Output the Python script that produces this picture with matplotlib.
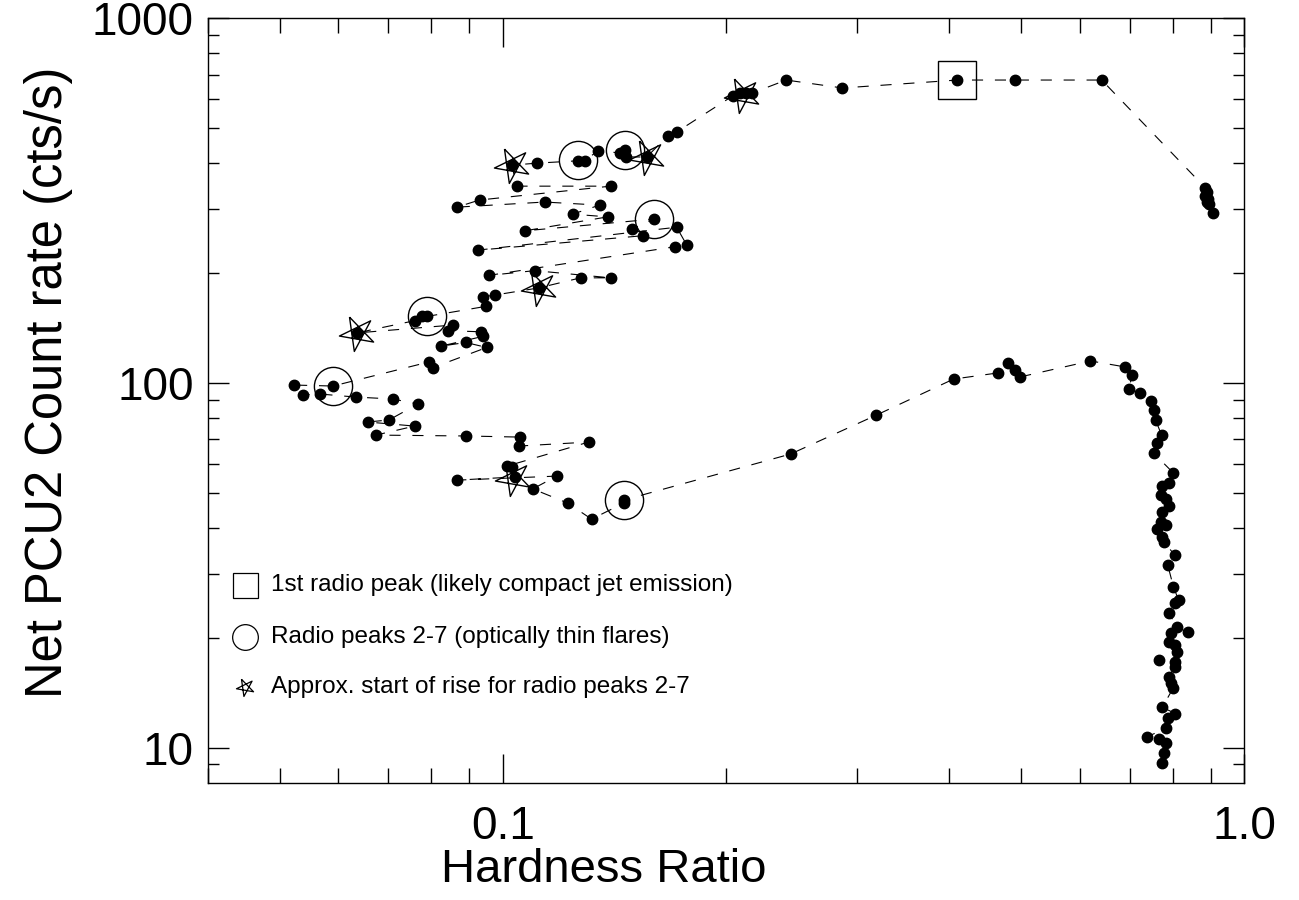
import numpy as np
import matplotlib
matplotlib.use("Agg")
import matplotlib.pyplot as plt
from matplotlib.path import Path
from matplotlib.ticker import FixedLocator, FixedFormatter, NullFormatter

plt.rcParams['font.family'] = ['Liberation Sans', 'DejaVu Sans']
plt.rcParams['lines.scale_dashes'] = False

# hardness ratio / net PCU2 rate, in time order
hardness = [0.906, 0.897, 0.889, 0.894, 0.886, 0.891, 0.886,
            0.642, 0.491, 0.410, 0.287, 0.241,
            0.217, 0.213, 0.2085, 0.204, 0.1715, 0.1668,
            0.1563, 0.1464, 0.146, 0.1437, 0.1342, 0.1289, 0.1261, 0.111, 0.1028,
            0.1044, 0.1397, 0.093, 0.0866, 0.1138, 0.135, 0.1242, 0.1384,
            0.107, 0.1597, 0.1492, 0.1543, 0.0925, 0.1715, 0.1769, 0.1704,
            0.0957, 0.1104, 0.1397, 0.1273, 0.1117, 0.0975, 0.0939, 0.0948,
            0.0789, 0.0777, 0.076, 0.0635, 0.0856, 0.0843, 0.0933, 0.0939,
            0.0824, 0.0891, 0.0951, 0.0804, 0.0794,
            0.059, 0.0522, 0.0537, 0.0566, 0.0633, 0.071, 0.0768,
            0.0702, 0.0657, 0.076, 0.0674, 0.0891, 0.1054, 0.1051, 0.1305,
            0.1012, 0.1028, 0.1037, 0.0866, 0.1182, 0.1097, 0.1223, 0.1317,
            0.1455, 0.1455,
            0.2443, 0.319, 0.4053, 0.4645, 0.4792, 0.491, 0.4974,
            0.620, 0.691, 0.706, 0.698, 0.724, 0.749, 0.756, 0.759,
            0.773, 0.763, 0.754, 0.802, 0.792, 0.773, 0.771, 0.783,
            0.790, 0.775, 0.771, 0.785, 0.763, 0.775, 0.780, 0.805,
            0.788, 0.802, 0.815, 0.805, 0.790, 0.812, 0.838, 0.795,
            0.792, 0.805, 0.812, 0.807, 0.768, 0.805, 0.790, 0.797,
            0.802, 0.775, 0.807, 0.788, 0.785, 0.738, 0.766, 0.783,
            0.778, 0.773]
rate = [292, 309, 313, 319, 325, 333, 342,
        676, 676, 676, 643, 676,
        623, 623, 623, 611, 487, 475,
        416, 416, 435, 427, 432, 406, 406, 400, 395,
        346, 346, 317, 303, 313, 307, 290, 285,
        261, 281, 264, 253, 231, 267, 239, 236,
        197, 203, 194, 194, 182, 174, 172, 162,
        152, 152, 148, 137, 144, 139, 138, 134,
        126, 129, 125, 110, 114,
        98, 98.6, 92.6, 93.2, 91.4, 90.3, 87.5,
        79.1, 78.1, 76.1, 71.9, 71.5, 71.0, 67.1, 68.8,
        59.1, 58.7, 55.2, 54.1, 55.5, 51.2, 46.8, 42.3,
        46.8, 47.7,
        63.8, 81.6, 102.4, 106.4, 113.3, 108.4, 103.7,
        114.8, 110.5, 105.0, 96.2, 93.8, 89.2, 84.2, 79.1,
        71.9, 68.4, 64.2, 56.6, 53.1, 52.1, 49.3, 48.0,
        46.0, 44.2, 41.5, 40.7, 39.7, 37.8, 36.6, 33.7,
        31.7, 27.6, 25.4, 24.9, 23.4, 21.4, 20.7, 20.6,
        19.5, 19.1, 18.3, 17.2, 17.4, 16.6, 15.6, 15.0,
        14.6, 12.9, 12.4, 12.05, 11.3, 10.7, 10.55, 10.3,
        9.66, 9.07]

# radio markers
peak1_hr = [0.410]
peak1_rate = [676]
flare_hr = [0.1261, 0.146, 0.1597, 0.0789, 0.059, 0.1455]
flare_rate = [408, 435, 281, 152, 98, 47.7]
rise_hr = [0.210, 0.1028, 0.1563, 0.1117, 0.0635, 0.1031]
rise_rate = [615, 395, 416, 182, 137, 55]

legend_labels = ["1st radio peak (likely compact jet emission)",
                 "Radio peaks 2-7 (optically thin flares)",
                 "Approx. start of rise for radio peaks 2-7"]

# IDL style open star: pentagram drawn with lines
ang = np.deg2rad(116 + 72 * np.array([0, 2, 4, 1, 3, 0]))
star = Path(np.column_stack([np.cos(ang), np.sin(ang)]))

fig = plt.figure(figsize=(12.99, 9), dpi=100)
ax = fig.add_axes([0.160, 0.130, 0.798, 0.850])

ax.plot(hardness, rate, color='k', lw=0.8, dashes=(8, 8.5),
        marker='o', ms=7.5, mfc='k', mec='k')
ax.plot(peak1_hr, peak1_rate, ls='none', marker='s', ms=27,
        mfc='none', mec='k', mew=1.0)
ax.plot(flare_hr, flare_rate, ls='none', marker='o', ms=27.5,
        mfc='none', mec='k', mew=1.0)
ax.plot(rise_hr, rise_rate, ls='none', marker=star, ms=26,
        mfc='none', mec='k', mew=1.0)

# legend, drawn by hand (no frame)
leg_y = [0.259, 0.191, 0.125]
leg_mk = [('s', 18), ('o', 18.5), (star, 13)]
for yy, (mk, ms), lab in zip(leg_y, leg_mk, legend_labels):
    ax.plot([0.0357], [yy], transform=ax.transAxes, ls='none', marker=mk,
            ms=ms, mfc='none', mec='k', mew=0.9)
    ax.text(0.061, yy, lab, transform=ax.transAxes, va='center', fontsize=17.5)

ax.set_xscale('log')
ax.set_yscale('log')
ax.set_xlim(0.04, 1.0)
ax.set_ylim(8, 1000)

ax.xaxis.set_major_locator(FixedLocator([0.1, 1.0]))
ax.xaxis.set_major_formatter(FixedFormatter(['0.1', '1.0']))
ax.xaxis.set_minor_locator(FixedLocator([0.04, 0.05, 0.06, 0.07, 0.08, 0.09,
                                         0.2, 0.3, 0.4, 0.5, 0.6, 0.7, 0.8, 0.9]))
ax.xaxis.set_minor_formatter(NullFormatter())
ax.yaxis.set_major_locator(FixedLocator([10, 100, 1000]))
ax.yaxis.set_major_formatter(FixedFormatter(['10', '100', '1000']))
ax.yaxis.set_minor_locator(FixedLocator([9, 20, 30, 40, 50, 60, 70, 80, 90,
                                         200, 300, 400, 500, 600, 700, 800, 900]))
ax.yaxis.set_minor_formatter(NullFormatter())

ax.tick_params(which='both', direction='in', top=True, right=True, width=1.0,
               labelsize=33)
ax.tick_params(axis='x', which='major', length=21, pad=16)
ax.tick_params(axis='x', which='minor', length=11)
ax.tick_params(axis='y', which='major', length=15, pad=10)
ax.tick_params(axis='y', which='minor', length=8)
for sp in ax.spines.values():
    sp.set_linewidth(1.0)

ax.set_xlabel('Hardness Ratio', fontsize=34)
ax.xaxis.label.set_va('center')
ax.xaxis.set_label_coords(0.382, -0.114)
ax.set_ylabel('Net PCU2 Count rate (cts/s)', fontsize=36.5)
ax.yaxis.label.set_va('center')
ax.yaxis.set_label_coords(-0.154, 0.524)

fig.savefig('out.png', dpi=100)
